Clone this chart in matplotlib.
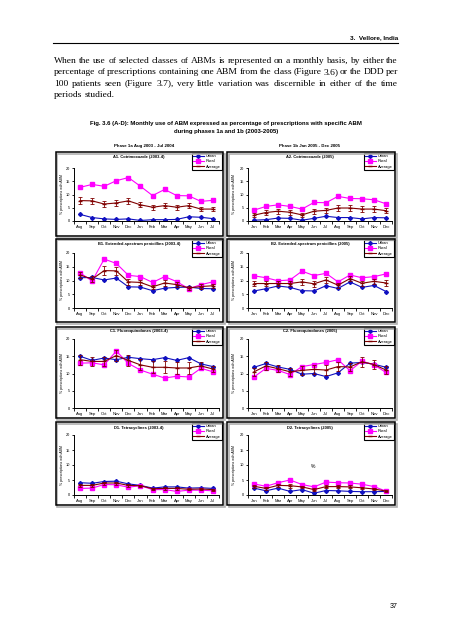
import matplotlib
matplotlib.use("Agg")
import matplotlib.pyplot as plt
from matplotlib.patches import Rectangle
from matplotlib.lines import Line2D

W, H = 452, 640

# ---- data read from the page ----
months_1a = ['Aug', 'Sep', 'Oct', 'Nov', 'Dec', 'Jan', 'Feb', 'Mar', 'Apr', 'May', 'Jun', 'Jul']
months_1b = ['Jan', 'Feb', 'Mar', 'Apr', 'May', 'Jun', 'Jul', 'Aug', 'Sep', 'Oct', 'Nov', 'Dec']

a1_urban = [2.5, 1.3, 0.8, 0.6, 0.8, 0.2, 0.5, 0.5, 0.6, 1.6, 1.4, 0.9]
a1_rural = [12.7, 13.8, 13.1, 15.2, 16.4, 13.1, 9.6, 11.9, 9.6, 9.5, 7.4, 7.8]
a1_avg = [7.7, 7.6, 6.4, 6.8, 7.6, 6.1, 5.2, 5.8, 5.2, 5.8, 4.5, 4.5]
a1_err = [1.2, 1.0, 1.0, 1.0, 1.0, 0.9, 0.9, 0.9, 0.9, 0.9, 0.8, 0.8]

a2_urban = [0.3, 0.5, 1.1, 1.0, 0.3, 1.0, 1.8, 1.3, 1.3, 0.8, 1.3, 1.2]
a2_rural = [4.1, 5.5, 6.1, 5.5, 4.5, 7.0, 6.9, 9.3, 8.5, 8.4, 8.0, 6.5]
a2_avg = [2.2, 3.2, 3.7, 3.3, 2.3, 3.7, 4.0, 4.9, 4.9, 4.5, 4.5, 3.9]
a2_err = [0.8, 0.8, 0.9, 0.9, 0.8, 0.9, 1.0, 1.0, 1.0, 1.0, 1.0, 0.9]

b1_urban = [11.0, 11.1, 10.2, 10.9, 7.7, 7.6, 6.3, 7.2, 7.5, 7.6, 7.1, 7.0]
b1_rural = [12.8, 9.8, 17.8, 16.2, 11.9, 11.4, 9.3, 11.4, 9.6, 7.0, 8.5, 9.5]
b1_avg = [12.0, 10.5, 13.6, 13.5, 9.5, 9.3, 7.7, 9.1, 8.5, 7.3, 7.8, 8.1]
b1_err = [1.0, 1.0, 1.6, 1.5, 1.0, 1.0, 0.8, 1.0, 0.9, 0.8, 0.8, 0.8]

b2_urban = [6.2, 7.0, 8.0, 7.5, 6.3, 6.2, 8.1, 7.1, 9.5, 7.5, 8.2, 6.0]
b2_rural = [11.7, 11.0, 9.9, 10.2, 13.4, 11.8, 12.6, 9.5, 12.0, 11.0, 11.4, 12.4]
b2_avg = [8.9, 8.9, 8.9, 8.9, 9.5, 8.8, 10.2, 8.3, 10.7, 9.0, 9.7, 9.1]
b2_err = [1.0, 1.0, 0.9, 0.9, 1.1, 1.0, 1.1, 0.9, 1.0, 1.0, 1.0, 1.1]

c1_urban = [15.0, 13.8, 14.5, 14.0, 14.7, 14.3, 14.0, 14.6, 13.8, 14.6, 12.8, 12.0]
c1_rural = [13.0, 13.1, 12.5, 16.5, 12.9, 11.0, 9.8, 8.7, 9.2, 9.0, 11.5, 10.5]
c1_avg = [14.0, 13.5, 13.5, 15.2, 13.8, 12.5, 11.8, 11.8, 11.6, 11.6, 12.2, 11.3]
c1_err = [1.5, 1.4, 1.3, 1.6, 1.5, 1.6, 1.7, 1.7, 1.7, 1.7, 1.0, 1.0]

c2_urban = [11.8, 12.9, 11.9, 11.2, 9.8, 10.0, 9.1, 10.2, 13.0, 13.2, 12.7, 11.8]
c2_rural = [9.0, 11.5, 10.9, 9.7, 12.0, 12.6, 13.2, 14.0, 10.8, 13.6, 12.5, 10.3]
c2_avg = [10.5, 12.2, 11.4, 10.5, 10.9, 11.2, 11.0, 12.0, 11.9, 13.4, 12.6, 11.0]
c2_err = [1.2, 1.2, 1.1, 1.1, 1.2, 1.3, 1.4, 1.4, 1.2, 1.4, 1.4, 1.2]

d1_urban = [4.1, 3.9, 4.5, 4.6, 3.7, 3.2, 2.3, 2.7, 2.7, 2.3, 2.4, 2.2]
d1_rural = [2.2, 2.3, 3.5, 3.4, 2.6, 3.1, 1.8, 1.8, 1.2, 1.6, 1.6, 1.4]
d1_avg = [3.2, 3.2, 4.0, 4.0, 3.2, 3.1, 2.1, 2.2, 2.2, 1.9, 2.0, 1.8]
d1_err = [0.4, 0.4, 0.5, 0.5, 0.4, 0.4, 0.4, 0.4, 0.5, 0.3, 0.3, 0.3]

d2_urban = [2.3, 1.4, 2.3, 1.2, 1.8, 0.6, 1.5, 1.4, 1.2, 1.1, 1.1, 1.2]
d2_rural = [3.7, 2.9, 4.1, 5.0, 3.5, 2.7, 4.3, 4.1, 4.0, 3.6, 2.8, 1.3]
d2_avg = [2.9, 2.2, 3.2, 3.1, 2.7, 1.8, 2.8, 2.8, 2.7, 2.4, 2.0, 1.3]
d2_err = [0.4, 0.4, 0.4, 0.6, 0.4, 0.4, 0.5, 0.5, 0.5, 0.4, 0.4, 0.3]

paragraph = [
    "When the use of selected classes of ABMs is represented on a monthly basis, by either the",
    "percentage of prescriptions containing one ABM from the class (Figure 3.6) or the DDD per",
    "100 patients seen (Figure 3.7), very little variation was discernible in either of the time",
    "periods studied.",
]

SANS = 'Liberation Sans'
SERIF = 'Liberation Serif'
URBAN_C = '#1010c0'
RURAL_C = '#ff00ff'
AVG_C = '#800000'

fig = plt.figure(figsize=(W / 100, H / 100), dpi=100)
fig.patch.set_facecolor('white')


def fx(px):
    return px / W


def fy(py):
    return 1 - py / H


def justified(lines, x0, x1, y0, step, size):
    r = fig.canvas.get_renderer()
    for i, line in enumerate(lines):
        words = line.split()
        widths = []
        for w in words:
            t = fig.text(0, 0, w, fontsize=size, family=SERIF)
            widths.append(t.get_window_extent(r).width)
            t.remove()
        last = i == len(lines) - 1
        if last or len(words) < 2:
            gap = size * 0.35
        else:
            gap = (x1 - x0 - sum(widths)) / (len(words) - 1)
        x = x0
        y = y0 + i * step
        for w, wd in zip(words, widths):
            fig.text(fx(x), fy(y), w, fontsize=size, family=SERIF, va='baseline', ha='left')
            x += wd + gap


# header and paragraph
fig.text(fx(398), fy(38), "3.  Vellore, India", fontsize=4.6, family=SANS, weight='bold',
         ha='right', va='center')
fig.add_artist(Line2D([fx(53), fx(398)], [fy(43), fy(43)], color='black', lw=0.8))
justified(paragraph, 54, 398, 62.8, 11.4, 6.8)

fig.text(0.5, fy(123.3), "Fig. 3.6 (A-D): Monthly use of ABM expressed as percentage of prescriptions with specific ABM",
         fontsize=4.3, family=SANS, weight='bold', ha='center', va='center')
fig.text(fx(226), fy(131), "during phases 1a and 1b (2003-2005)",
         fontsize=4.3, family=SANS, weight='bold', ha='center', va='center')
fig.text(fx(144), fy(146), "Phase 1a Aug 2003 - Jul 2004", fontsize=3.2, family=SANS,
         weight='bold', ha='center', va='center')
fig.text(fx(310), fy(146), "Phase 1b Jan 2005 - Dec 2005", fontsize=3.2, family=SANS,
         weight='bold', ha='center', va='center')
fig.text(fx(398), fy(606), "37", fontsize=5, family=SANS, ha='right', va='center')

# panel layout (pixel coordinates on the page)
rows = [
    # box top, box bottom, axis top (20), axis bottom (0), title y
    (152, 236, 168, 221, 157),
    (239, 322, 253, 308, 244),
    (327, 418, 339, 408, 331),
    (422, 505, 435, 495, 428),
]
cols = [
    # box left, box right, axis left, axis right, ylabel x, title x
    (56, 223, 74, 219, 62, 139),
    (227, 395, 248, 392, 234, 310),
]

panels = [
    [("A1. Cotrimoxazole (2003-4)", months_1a, a1_urban, a1_rural, a1_avg, a1_err),
     ("A2. Cotrimoxazole (2005)", months_1b, a2_urban, a2_rural, a2_avg, a2_err)],
    [("B1. Extended-spectrum penicillins (2003-4)", months_1a, b1_urban, b1_rural, b1_avg, b1_err),
     ("B2. Extended-spectrum penicillins (2005)", months_1b, b2_urban, b2_rural, b2_avg, b2_err)],
    [("C1. Fluoroquinolones (2003-4)", months_1a, c1_urban, c1_rural, c1_avg, c1_err),
     ("C2. Fluoroquinolones (2005)", months_1b, c2_urban, c2_rural, c2_avg, c2_err)],
    [("D1. Tetracyclines (2003-4)", months_1a, d1_urban, d1_rural, d1_avg, d1_err),
     ("D2. Tetracyclines (2005)", months_1b, d2_urban, d2_rural, d2_avg, d2_err)],
]

for ri, (bt, bb, at, ab, ty) in enumerate(rows):
    for ci, (bl, br, al, ar, ylx, tx) in enumerate(cols):
        title, months, urban, rural, avg, err = panels[ri][ci]

        # gray shadow and black frame
        fig.add_artist(Rectangle((fx(bl + 1.5), fy(bb + 1.5)), (br - bl) / W, (bb - bt) / H,
                                 transform=fig.transFigure, fill=False, ec='#b0b0b0', lw=1.2))
        fig.add_artist(Rectangle((fx(bl), fy(bb)), (br - bl) / W, (bb - bt) / H,
                                 transform=fig.transFigure, fill=False, ec='black', lw=1.1))

        ax = fig.add_axes([fx(al), fy(ab), (ar - al) / W, (ab - at) / H])
        x = list(range(len(months)))
        ax.plot(x, urban, color=URBAN_C, marker='D', ms=2.0, lw=0.8)
        ax.plot(x, rural, color=RURAL_C, marker='s', ms=2.8, lw=0.8)
        ax.errorbar(x, avg, yerr=err, color=AVG_C, marker='_', ms=2.5, lw=0.8,
                    elinewidth=0.6, capsize=1.2, capthick=0.6)

        ax.set_xlim(-0.5, len(months) - 0.5)
        ax.set_ylim(0, 20)
        ax.set_yticks([0, 5, 10, 15, 20])
        ax.set_xticks(x)
        ax.set_xticklabels(months)
        ax.set_xticks([i - 0.5 for i in range(len(months) + 1)], minor=True)
        ax.tick_params(axis='x', which='major', length=0, labelsize=3.0, pad=3)
        ax.tick_params(axis='x', which='minor', length=1.8, width=0.6, direction='out')
        ax.tick_params(axis='y', length=1.8, width=0.6, labelsize=2.8, pad=1.2)
        for lab in ax.get_xticklabels() + ax.get_yticklabels():
            lab.set_family(SANS)
        for s in ['top', 'right']:
            ax.spines[s].set_visible(False)
        for s in ['left', 'bottom']:
            ax.spines[s].set_linewidth(0.7)
        ax.patch.set_alpha(0)

        fig.text(fx(ylx), fy((at + ab) / 2), "% prescriptions with ABM", rotation=90,
                 fontsize=2.5, family=SANS, ha='center', va='center')
        fig.text(fx(tx), fy(ty), title, fontsize=2.9, family=SANS, weight='bold',
                 ha='center', va='center')

        handles = [
            Line2D([], [], color=URBAN_C, marker='D', ms=2.0, lw=0.8),
            Line2D([], [], color=RURAL_C, marker='s', ms=2.8, lw=0.8),
            Line2D([], [], color=AVG_C, marker='_', ms=2.5, lw=0.8),
        ]
        leg = ax.legend(handles, ['Urban', 'Rural', 'Average'], loc='upper right',
                        bbox_to_anchor=(fx(br - 1), fy(bt + 0.5)), bbox_transform=fig.transFigure,
                        prop={'family': SANS, 'size': 2.9}, frameon=True, fancybox=False,
                        edgecolor='black', framealpha=1, handlelength=2.6, handletextpad=0.5,
                        borderpad=0.35, labelspacing=0.35, borderaxespad=0)
        leg.get_frame().set_linewidth(0.8)

# stray percent sign on the D2 panel
fig.text(fx(313), fy(467), "%", fontsize=3.6, family=SANS, ha='center', va='center')

fig.savefig("out.png", dpi=100)
